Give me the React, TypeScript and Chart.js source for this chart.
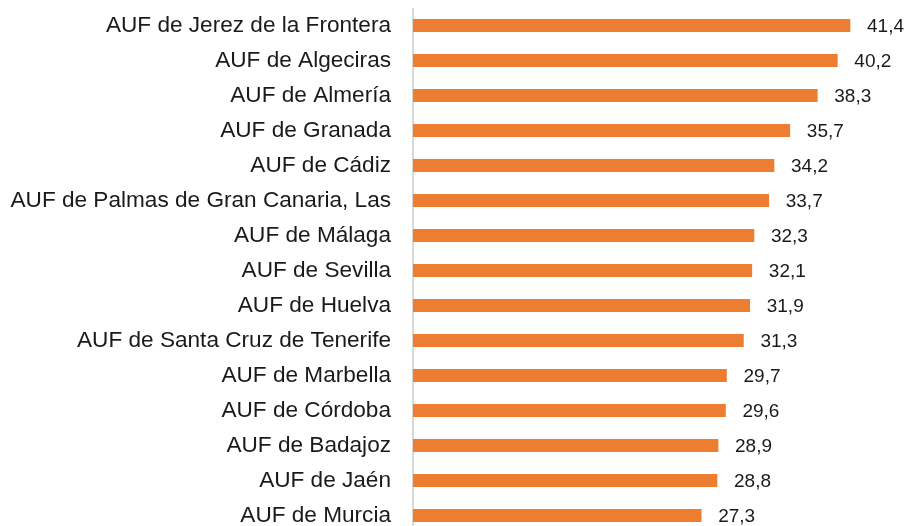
import React, { useEffect, useRef } from "react";
import { Chart, registerables } from "chart.js";

Chart.register(...registerables);

const categories = [
  "AUF de Jerez de la Frontera",
  "AUF de Algeciras",
  "AUF de Almería",
  "AUF de Granada",
  "AUF de Cádiz",
  "AUF de Palmas de Gran Canaria, Las",
  "AUF de Málaga",
  "AUF de Sevilla",
  "AUF de Huelva",
  "AUF de Santa Cruz de Tenerife",
  "AUF de Marbella",
  "AUF de Córdoba",
  "AUF de Badajoz",
  "AUF de Jaén",
  "AUF de Murcia",
];

const values = [41.4, 40.2, 38.3, 35.7, 34.2, 33.7, 32.3, 32.1, 31.9, 31.3, 29.7, 29.6, 28.9, 28.8, 27.3];

const FONT = "Arial, 'Liberation Sans', sans-serif";

const valueLabels = {
  id: "valueLabels",
  afterDatasetsDraw(chart: any) {
    const ctx = chart.ctx;
    const meta = chart.getDatasetMeta(0);
    ctx.save();
    ctx.font = `19px ${FONT}`;
    ctx.fillStyle = "#1a1a1a";
    ctx.textAlign = "left";
    ctx.textBaseline = "middle";
    meta.data.forEach((bar: any, i: number) => {
      const v = values[i];
      ctx.fillText(v.toFixed(1).replace(".", ","), bar.x + 17, bar.y + 1.5);
    });
    ctx.restore();
  },
};

export default function App() {
  const ref = useRef<HTMLCanvasElement>(null);
  useEffect(() => {
    if (!ref.current) return;
    const chart = new Chart(ref.current, {
      type: "bar",
      data: {
        labels: categories,
        datasets: [
          {
            data: values,
            backgroundColor: "#ED7D31",
            barThickness: 12.5,
          },
        ],
      },
      options: {
        indexAxis: "y",
        animation: false,
        responsive: false,
        maintainAspectRatio: false,
        layout: { padding: { top: 0, bottom: 0, left: 0, right: 20 } },
        plugins: {
          legend: { display: false },
          tooltip: { enabled: false },
        },
        scales: {
          x: {
            display: false,
            min: 0,
            max: 45,
          },
          y: {
            afterFit(scale: any) {
              scale.width = 405;
              scale.paddingTop = 0;
              scale.paddingBottom = 0;
            },
            grid: { display: false, drawTicks: false },
            border: { display: true, color: "#d9d9d9", width: 2 },
            ticks: {
              padding: 22,
              color: "#1a1a1a",
              autoSkip: false,
              font: { family: FONT, size: 22.6 },
            },
          },
        },
      },
      plugins: [valueLabels],
    });
    return () => chart.destroy();
  }, []);
  return (
    <div style={{ position: "fixed", left: 8, top: 8, width: 900, height: 518, overflow: "hidden" }}>
      <canvas ref={ref} width={900} height={525} style={{ width: 900, height: 525, display: "block" }} />
    </div>
  );
}
